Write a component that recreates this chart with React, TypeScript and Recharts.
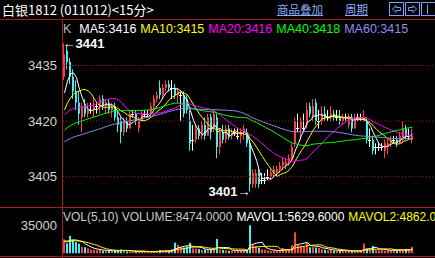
import React from 'react';
import { ComposedChart, Bar, Line, XAxis, YAxis, ReferenceLine, ReferenceDot } from 'recharts';

// 白银1812, 15-minute bars, oldest first
const opens = [
  3432, 3439, 3436, 3432, 3428, 3425, 3421, 3424, 3422, 3423,
  3423, 3424, 3424, 3426, 3424, 3425, 3423, 3424, 3421, 3420,
  3417, 3420, 3418, 3422, 3422, 3418, 3420, 3422, 3422, 3422,
  3424, 3426, 3429, 3427, 3429, 3430, 3429, 3429, 3427, 3427,
  3427, 3426, 3420, 3415, 3415, 3418, 3416, 3419, 3416, 3421,
  3418, 3421, 3413, 3417, 3415, 3418, 3416, 3417, 3416, 3416,
  3417, 3417, 3414, 3403, 3403, 3406, 3404, 3404, 3405, 3405,
  3406, 3406, 3407, 3408, 3408, 3409, 3410, 3414, 3418, 3418,
  3418, 3419, 3424, 3421, 3425, 3420, 3420, 3422, 3421, 3421,
  3422, 3421, 3421, 3420, 3421, 3419, 3421, 3418, 3421, 3421,
  3420, 3420, 3415, 3415, 3413, 3413, 3413, 3412, 3413, 3414,
  3415, 3415, 3414, 3415, 3418, 3416, 3415,
];
const highs = [
  3441, 3440, 3437, 3434, 3431, 3428, 3425, 3426, 3425, 3425,
  3426, 3425, 3427, 3427, 3426, 3426, 3425, 3425, 3423, 3421,
  3421, 3421, 3423, 3423, 3423, 3421, 3423, 3423, 3423, 3425,
  3427, 3428, 3431, 3430, 3431, 3431, 3431, 3430, 3429, 3428,
  3428, 3427, 3423, 3419, 3419, 3419, 3420, 3421, 3422, 3422,
  3423, 3422, 3418, 3419, 3419, 3419, 3418, 3418, 3418, 3418,
  3419, 3418, 3415, 3407, 3407, 3407, 3406, 3406, 3407, 3407,
  3408, 3408, 3409, 3410, 3410, 3411, 3414, 3421, 3422, 3421,
  3422, 3425, 3425, 3426, 3426, 3423, 3424, 3424, 3423, 3424,
  3423, 3423, 3423, 3422, 3422, 3422, 3422, 3422, 3422, 3422,
  3423, 3421, 3418, 3416, 3414, 3414, 3414, 3415, 3415, 3416,
  3416, 3416, 3417, 3420, 3419, 3418, 3418,
];
const lows = [
  3431, 3434, 3430, 3426, 3423, 3419, 3417, 3421, 3421, 3422,
  3421, 3422, 3422, 3423, 3422, 3422, 3421, 3420, 3417, 3414,
  3416, 3417, 3418, 3421, 3419, 3417, 3420, 3421, 3421, 3421,
  3423, 3425, 3426, 3426, 3428, 3428, 3426, 3426, 3425, 3420,
  3421, 3422, 3412, 3412, 3414, 3415, 3415, 3415, 3416, 3415,
  3417, 3410, 3411, 3414, 3414, 3415, 3415, 3416, 3415, 3414,
  3415, 3413, 3401, 3402, 3402, 3402, 3403, 3403, 3404, 3404,
  3405, 3405, 3406, 3407, 3407, 3408, 3409, 3413, 3417, 3415,
  3417, 3418, 3421, 3420, 3419, 3418, 3419, 3420, 3420, 3420,
  3420, 3420, 3419, 3419, 3420, 3418, 3417, 3418, 3420, 3420,
  3420, 3414, 3413, 3411, 3411, 3412, 3412, 3410, 3411, 3413,
  3414, 3413, 3414, 3414, 3415, 3415, 3414,
];
const closes = [
  3438, 3436, 3432, 3428, 3425, 3422, 3424, 3422, 3423, 3423,
  3424, 3424, 3426, 3424, 3425, 3423, 3424, 3421, 3419, 3417,
  3420, 3418, 3422, 3422, 3420, 3420, 3422, 3422, 3422, 3424,
  3426, 3427, 3427, 3429, 3430, 3429, 3429, 3427, 3428, 3427,
  3422, 3423, 3414, 3415, 3418, 3416, 3419, 3416, 3421, 3417,
  3422, 3413, 3417, 3415, 3418, 3416, 3417, 3417, 3416, 3417,
  3418, 3414, 3403, 3406, 3406, 3403, 3404, 3404, 3405, 3406,
  3407, 3407, 3408, 3409, 3409, 3410, 3413, 3420, 3418, 3420,
  3418, 3423, 3422, 3424, 3420, 3420, 3422, 3421, 3421, 3422,
  3421, 3421, 3420, 3421, 3421, 3421, 3418, 3421, 3421, 3421,
  3421, 3415, 3415, 3412, 3413, 3413, 3413, 3414, 3414, 3415,
  3415, 3414, 3416, 3418, 3416, 3416, 3416,
];
const volumes = [
  18000, 13000, 22500, 17500, 14500, 12500, 8500, 8000, 6500, 5000,
  4800, 4200, 4600, 3500, 3100, 3300, 2900, 3600, 4100, 5200,
  3800, 2600, 2300, 1900, 2200, 3100, 2600, 1800, 1700, 2400,
  2900, 3300, 4400, 3000, 3500, 3200, 5600, 13800, 10800, 8200,
  7600, 8900, 13500, 6500, 6000, 5600, 4500, 5200, 4800, 4400,
  5600, 18500, 5000, 4600, 4400, 3600, 3500, 2800, 3300, 3800,
  4200, 4900, 36000, 11500, 9600, 7400, 5400, 4900, 3800, 3400,
  4100, 3300, 4300, 6600, 4800, 4200, 10800, 27000, 10500, 9800,
  8700, 13800, 7900, 8200, 7600, 7200, 5400, 4700, 4100, 4500,
  3600, 3200, 3800, 3400, 3000, 3500, 2800, 3100, 3300, 3900,
  12800, 6200, 5100, 9500, 4600, 4200, 4400, 3950, 4210, 3876,
  4518, 3918, 5120, 4436, 5812, 4306, 8474,
];

// bars before the first visible one, only used to seed the averages
const warmupCloses = [
  3406, 3407, 3408, 3407, 3409, 3408, 3407, 3406, 3408, 3409,
  3410, 3409, 3408, 3407, 3408, 3409, 3410, 3408, 3408, 3408,
  3409, 3411, 3410, 3412, 3411, 3413, 3412, 3413, 3414, 3412,
  3414, 3415, 3413, 3415, 3416, 3414, 3416, 3417, 3418, 3417,
  3419, 3420, 3421, 3421, 3420, 3420, 3421, 3420, 3420, 3420,
  3417, 3418, 3418, 3419, 3420, 3420, 3422, 3427, 3431,
];
const warmupVolumes = [13500, 14800, 12900, 15200, 13600, 14200, 16800, 15500, 15500];

const maPeriods = [5, 10, 20, 40, 60];
const maColors = ['#ffffff', '#ffff00', '#ff00ff', '#00ff00', '#8c8cf0'];
const volPeriods = [5, 10];
const volColors = ['#ffffff', '#ffff00'];
const priceTicks = [3405, 3420, 3435];
const volumeTicks = [35000];

const W = 435;
const H = 258;
const PRICE_H = 207;
const AXIS_W = 63;
const RIGHT = 2;
const SLOT = 3;
const UP = '#ff4040';
const DOWN = '#40f0f0';
const FLAT = '#ffffff';
const FRAME = '#a81c1c';
const FONT = '"Liberation Sans", Arial, sans-serif';

const movingAvg = (series: number[], n: number, skip: number) =>
  series.slice(skip).map((_, i) => {
    const win = series.slice(skip + i + 1 - n, skip + i + 1);
    return win.reduce((a, b) => a + b, 0) / win.length;
  });

const allCloses = [...warmupCloses, ...closes];
const allVols = [...warmupVolumes, ...volumes];
const maLines = maPeriods.map((n) => movingAvg(allCloses, n, warmupCloses.length));
const volLines = volPeriods.map((n) => movingAvg(allVols, n, warmupVolumes.length));

const rows = closes.map((close, i) => {
  const row: any = {
    i,
    open: opens[i],
    high: highs[i],
    low: lows[i],
    close,
    range: [lows[i], highs[i]],
    vol: volumes[i],
  };
  maPeriods.forEach((n, k) => (row['ma' + n] = maLines[k][i]));
  volPeriods.forEach((n, k) => (row['mv' + n] = volLines[k][i]));
  return row;
});

const maxHigh = Math.max(...highs);
const minLow = Math.min(...lows);
const maxIdx = highs.indexOf(maxHigh);
const minIdx = lows.indexOf(minLow);
const last = rows.length - 1;

const xDomain = [-0.5, (W - AXIS_W - RIGHT) / SLOT - 0.5];

const Candle = (props: any) => {
  const { x, y, width, height, payload } = props;
  const top = Math.min(y, y + height);
  const h = Math.abs(height);
  const { open, close, high, low } = payload;
  const toY = (v: number) => top + ((high - v) / (high - low)) * h;
  const left = Math.round(x + width / 2 - 1);
  const color = close > open ? UP : close < open ? DOWN : FLAT;
  const yo = toY(open);
  const yc = toY(close);
  if (open === close) {
    return (
      <g>
        <rect x={left} y={top} width={1} height={h} fill={color} />
        <rect x={left - 1} y={Math.round(yo)} width={3} height={1} fill={color} />
      </g>
    );
  }
  return (
    <g>
      <rect x={left} y={top} width={1} height={h} fill={color} />
      <rect x={left} y={Math.min(yo, yc)} width={2} height={Math.max(1, Math.abs(yo - yc))} fill={color} />
    </g>
  );
};

const VolBar = (props: any) => {
  const { x, y, width, height, payload } = props;
  const left = Math.round(x + width / 2 - 1);
  return <rect x={left} y={y} width={2} height={height} fill={payload.close >= payload.open ? UP : DOWN} />;
};

const axisTick = (p: any) => (
  <text x={57} y={p.y} dy={4.5} textAnchor="end" fill="#d4d4d4" fontSize={13} fontFamily={FONT}>
    {p.payload.value}
  </text>
);

const HighLabel = (p: any) => {
  const vb = p.viewBox;
  const cx = vb.x + vb.width / 2;
  const cy = vb.y + vb.height / 2;
  return (
    <text x={cx - 2} y={cy} dy={4.5} fill="#ffffff" fontSize={13} fontWeight="bold" fontFamily={FONT}>
      ←{maxHigh}
    </text>
  );
};

const LowLabel = (p: any) => {
  const vb = p.viewBox;
  const cx = vb.x + vb.width / 2;
  const cy = vb.y + vb.height / 2;
  return (
    <text x={cx} y={cy} dy={5} textAnchor="end" fill="#ffffff" fontSize={13} fontWeight="bold" fontFamily={FONT}>
      {minLow}→
    </text>
  );
};

const TitleBar = () => (
  <div style={{ position: 'absolute', left: 0, top: 0, width: W, height: 19 }}>
    <span style={{ position: 'absolute', left: 2, top: 2, color: '#ffffff', fontSize: 13, lineHeight: '15px', fontFamily: '"Noto Sans CJK SC", sans-serif', whiteSpace: 'nowrap' }}>
      白银1812 (011012)&lt;15分&gt;
    </span>
    <span style={{ position: 'absolute', left: 277, top: 2, color: '#88aaff', fontSize: 11.5, lineHeight: '15px', textDecoration: 'underline', fontFamily: '"Noto Sans CJK SC", sans-serif' }}>
      商品叠加
    </span>
    <span style={{ position: 'absolute', left: 345, top: 2, color: '#88aaff', fontSize: 11.5, lineHeight: '15px', textDecoration: 'underline', fontFamily: '"Noto Sans CJK SC", sans-serif' }}>
      周期
    </span>
    <svg style={{ position: 'absolute', left: 0, top: 0 }} width={W} height={19}>
      <g stroke="#7a9cff" fill="none" strokeWidth={1}>
        <rect x={389.5} y={2.5} width={14} height={13} />
        <rect x={405.5} y={2.5} width={14} height={13} />
        <rect x={421.5} y={2.5} width={14} height={13} />
        <path d="M392.5 9 L396 5.5 L396 7.5 L400.5 7.5 L400.5 10.5 L396 10.5 L396 12.5 Z" />
        <path d="M416.5 9 L413 5.5 L413 7.5 L408.5 7.5 L408.5 10.5 L413 10.5 L413 12.5 Z" />
        <path d="M427.5 4.5 L427.5 14" />
      </g>
    </svg>
  </div>
);

const Frame = () => (
  <svg style={{ position: 'absolute', left: 0, top: 0, pointerEvents: 'none' }} width={W} height={H}>
    <g stroke={FRAME} strokeWidth={1}>
      <line x1={0} y1={19.5} x2={W} y2={19.5} />
      <line x1={62.5} y1={19.5} x2={62.5} y2={H} />
      <line x1={0} y1={207.5} x2={W} y2={207.5} />
      <line x1={0} y1={256.5} x2={W} y2={256.5} />
    </g>
  </svg>
);

const fmt0 = (v: number) => v.toFixed(0);
const fmt4 = (v: number) => v.toFixed(4);

const Legends = () => (
  <>
    <div style={{ position: 'absolute', left: 63, top: 22, display: 'flex', gap: 4, fontSize: 12.5, lineHeight: '14px', whiteSpace: 'nowrap', fontFamily: FONT }}>
      <span style={{ color: '#b8b8b8', marginRight: 4 }}>K</span>
      {maPeriods.map((n, k) => (
        <span key={n} style={{ color: maColors[k] }}>
          MA{n}:{fmt0(maLines[k][last])}
        </span>
      ))}
    </div>
    <div style={{ position: 'absolute', left: 63, top: 210, display: 'flex', gap: 4, fontSize: 12, lineHeight: '14px', whiteSpace: 'nowrap', fontFamily: FONT }}>
      <span style={{ color: '#c8c8c8' }}>VOL({volPeriods.join(',')}) VOLUME:{fmt4(volumes[last])}</span>
      {volPeriods.map((n, k) => (
        <span key={n} style={{ color: volColors[k] }}>
          MAVOL{k + 1}:{fmt4(volLines[k][last])}
        </span>
      ))}
    </div>
  </>
);

export default function App() {
  return (
    <div style={{ position: 'fixed', left: 0, top: 0, width: W, height: H, background: '#000', overflow: 'hidden', fontFamily: FONT }}>
      <div style={{ position: 'absolute', left: 0, top: 0 }}>
        <ComposedChart width={W} height={PRICE_H} data={rows} margin={{ top: 20, right: RIGHT, bottom: 0, left: 0 }}>
          <XAxis dataKey="i" type="number" domain={xDomain} hide allowDataOverflow />
          <YAxis
            domain={[3396.8, 3447.3]}
            ticks={priceTicks}
            interval={0}
            width={AXIS_W}
            axisLine={false}
            tickLine={false}
            tick={axisTick}
            allowDataOverflow
          />
          {priceTicks.map((t) => (
            <ReferenceLine key={t} y={t} stroke="#a01818" strokeDasharray="1 2" />
          ))}
          <Bar dataKey="range" barSize={2} shape={Candle} isAnimationActive={false} />
          {maPeriods.map((n, k) => (
            <Line
              key={n}
              dataKey={'ma' + n}
              type="linear"
              stroke={maColors[k]}
              strokeWidth={1}
              dot={false}
              activeDot={false}
              isAnimationActive={false}
            />
          ))}
          <ReferenceDot x={maxIdx} y={maxHigh} r={1} fill="none" stroke="none" label={{ content: HighLabel }} />
          <ReferenceDot x={minIdx} y={minLow} r={1} fill="none" stroke="none" label={{ content: LowLabel }} />
        </ComposedChart>
      </div>
      <div style={{ position: 'absolute', left: 0, top: PRICE_H }}>
        <ComposedChart width={W} height={H - PRICE_H} data={rows} margin={{ top: 1, right: RIGHT, bottom: 4.5, left: 0 }}>
          <XAxis dataKey="i" type="number" domain={xDomain} hide allowDataOverflow />
          <YAxis
            domain={[0, 57900]}
            ticks={volumeTicks}
            interval={0}
            width={AXIS_W}
            axisLine={false}
            tickLine={false}
            tick={axisTick}
            allowDataOverflow
          />
          <Bar dataKey="vol" barSize={2} shape={VolBar} isAnimationActive={false} />
          {volPeriods.map((n, k) => (
            <Line
              key={n}
              dataKey={'mv' + n}
              type="linear"
              stroke={volColors[k]}
              strokeWidth={1}
              dot={false}
              activeDot={false}
              isAnimationActive={false}
            />
          ))}
        </ComposedChart>
      </div>
      <TitleBar />
      <Legends />
      <Frame />
    </div>
  );
}
